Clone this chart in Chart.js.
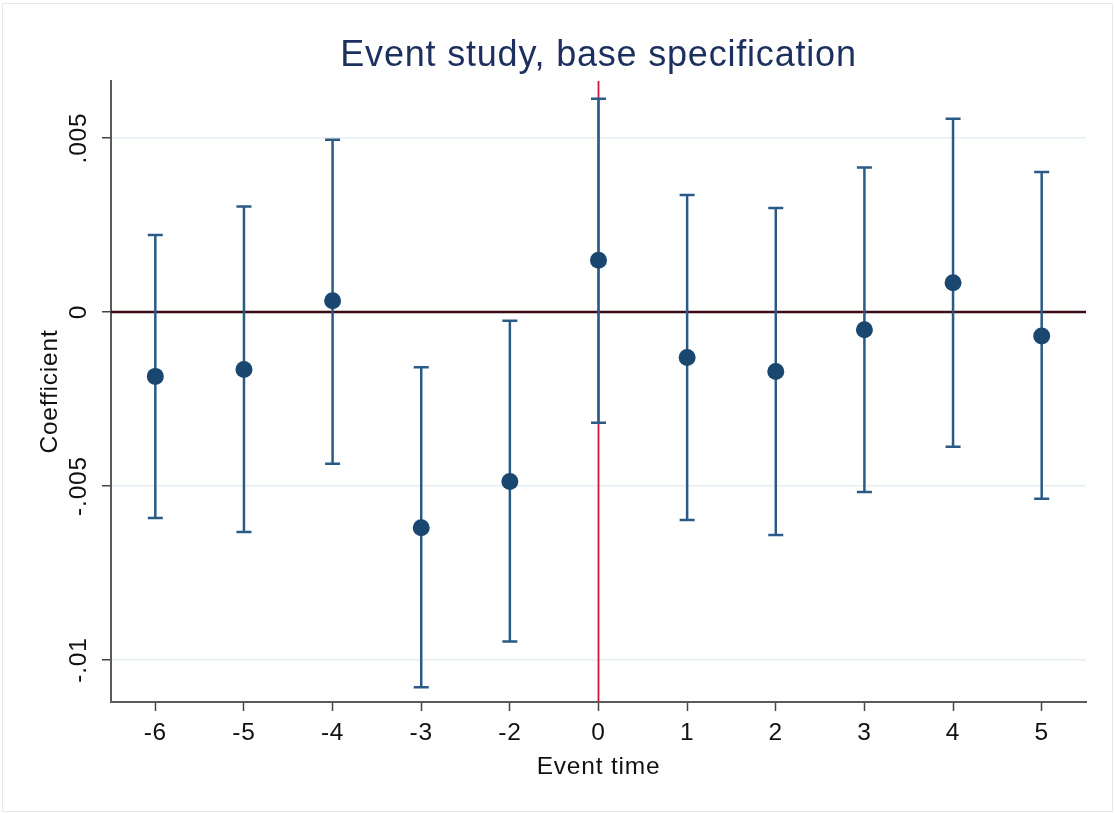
<!DOCTYPE html>
<html>
<head>
<meta charset="utf-8">
<title>Event study, base specification</title>
<script src="https://cdn.jsdelivr.net/npm/chart.js@4/dist/chart.umd.min.js"></script>
<style>
  html, body { margin: 0; padding: 0; background: #fff; }
  canvas { display: block; }
</style>
</head>
<body>
<canvas id="eventStudyGraph" width="1115" height="813"></canvas>
<script>
// event time categories (period -1 is the omitted reference period)
const eventTimes = ["-6", "-5", "-4", "-3", "-2", "0", "1", "2", "3", "4", "5"];
const coefficients = [-0.00185, -0.00165, 0.00032, -0.0062, -0.00487, 0.00149, -0.00131, -0.00171, -0.00051, 0.00084, -0.00069];
const ciUpper = [0.00221, 0.00303, 0.00495, -0.00159, -0.00025, 0.00613, 0.00336, 0.00299, 0.00415, 0.00555, 0.00402];
const ciLower = [-0.00592, -0.00632, -0.00436, -0.01078, -0.00947, -0.00318, -0.00598, -0.00641, -0.00517, -0.00387, -0.00537];
const yTicks = [-0.01, -0.005, 0, 0.005];
const eventLine = "0";

const NAVY = "#1a476f";
const FONT = "'Liberation Sans', Arial, Helvetica, sans-serif";

// stata style tick label: .005, -.01
function stata_label(v) {
    if (v === 0) { return "0"; }
    return (v < 0 ? "-" : "") + String(Math.abs(v)).replace(/^0/, "");
}

// draws zero line, event line, confidence intervals and rotated y labels
const eventStudyPlugin = {
    id: "eventStudy",
    beforeDraw(chart) {
        const ctx = chart.ctx;
        ctx.letterSpacing = "0.8px";
        ctx.save();
        ctx.strokeStyle = "#e8e8e8";
        ctx.lineWidth = 1;
        ctx.strokeRect(2.5, 3.5, 1110, 808);
        ctx.restore();
    },
    beforeDatasetsDraw(chart) {
        const { ctx, chartArea, scales: { x, y } } = chart;
        ctx.save();
        // horizontal line at zero
        const y0 = y.getPixelForValue(0);
        ctx.strokeStyle = "#3b0b12";
        ctx.lineWidth = 2.5;
        ctx.beginPath();
        ctx.moveTo(chartArea.left, y0);
        ctx.lineTo(chartArea.right, y0);
        ctx.stroke();
        // vertical line at event time
        const xe = x.getPixelForValue(eventTimes.indexOf(eventLine));
        ctx.strokeStyle = "#d4143a";
        ctx.lineWidth = 1.8;
        ctx.beginPath();
        ctx.moveTo(xe, chartArea.top);
        ctx.lineTo(xe, chartArea.bottom);
        ctx.stroke();
        // confidence intervals with caps
        ctx.strokeStyle = "#2b5a86";
        ctx.lineWidth = 2.5;
        eventTimes.forEach((t, i) => {
            const xi = x.getPixelForValue(i);
            const yt = y.getPixelForValue(ciUpper[i]);
            const yb = y.getPixelForValue(ciLower[i]);
            ctx.beginPath();
            ctx.moveTo(xi, yt);
            ctx.lineTo(xi, yb);
            ctx.moveTo(xi - 7.5, yt);
            ctx.lineTo(xi + 7.5, yt);
            ctx.moveTo(xi - 7.5, yb);
            ctx.lineTo(xi + 7.5, yb);
            ctx.stroke();
        });
        ctx.restore();
    },
    afterDraw(chart) {
        const { ctx, scales: { y } } = chart;
        ctx.save();
        ctx.fillStyle = "#111";
        ctx.font = "24.5px " + FONT;
        ctx.textAlign = "center";
        ctx.textBaseline = "middle";
        yTicks.forEach(v => {
            ctx.save();
            ctx.translate(79, y.getPixelForValue(v));
            ctx.rotate(-Math.PI / 2);
            ctx.fillText(stata_label(v), 0, 0);
            ctx.restore();
        });
        ctx.restore();
    }
};

Chart.defaults.font.family = FONT;

const eventStudyGraph = new Chart("eventStudyGraph", {
    type: "line",
    data: {
        labels: eventTimes,
        datasets: [{
            data: coefficients,
            showLine: false,
            pointRadius: 8.5,
            pointHoverRadius: 8.5,
            pointBackgroundColor: NAVY,
            pointBorderWidth: 0,
        }],
    },
    options: {
        responsive: false,
        animation: false,
        events: [],
        layout: { padding: { left: 0, right: 29, top: 0, bottom: 0 } },
        plugins: {
            legend: { display: false },
            tooltip: { enabled: false },
            title: {
                display: true,
                fullSize: false,
                text: "Event study, base specification",
                color: "#1c2f5e",
                font: { size: 36, weight: "normal", lineHeight: 1.2 },
                padding: { top: 34, bottom: 3.8 },
            },
        },
        scales: {
            x: {
                type: "category",
                offset: true,
                afterFit: (scale) => { scale.height = 111; },
                grid: { display: true, drawOnChartArea: false, drawTicks: true, tickLength: 9, tickColor: "#444", tickWidth: 1.5 },
                border: { display: true, color: "#5a5a5a", width: 2 },
                ticks: { color: "#111", font: { size: 24.5 }, padding: 8, maxRotation: 0 },
                title: { display: true, text: "Event time", color: "#111", font: { size: 24.5 }, padding: { top: 0, bottom: 31 } },
            },
            y: {
                min: -0.011207,
                max: 0.006638,
                afterBuildTicks: (scale) => { scale.ticks = yTicks.map(v => ({ value: v })); },
                afterFit: (scale) => { scale.width = 111; },
                grid: { color: "#e6eef1", lineWidth: 1.5, drawTicks: true, tickLength: 9, tickColor: "#444", tickWidth: 1.5 },
                border: { display: true, color: "#5a5a5a", width: 2 },
                ticks: { display: false },
                title: { display: true, text: "Coefficient", color: "#111", font: { size: 24.5 }, padding: { top: 36, bottom: 0 } },
            },
        },
    },
    plugins: [eventStudyPlugin],
});
</script>
</body>
</html>
